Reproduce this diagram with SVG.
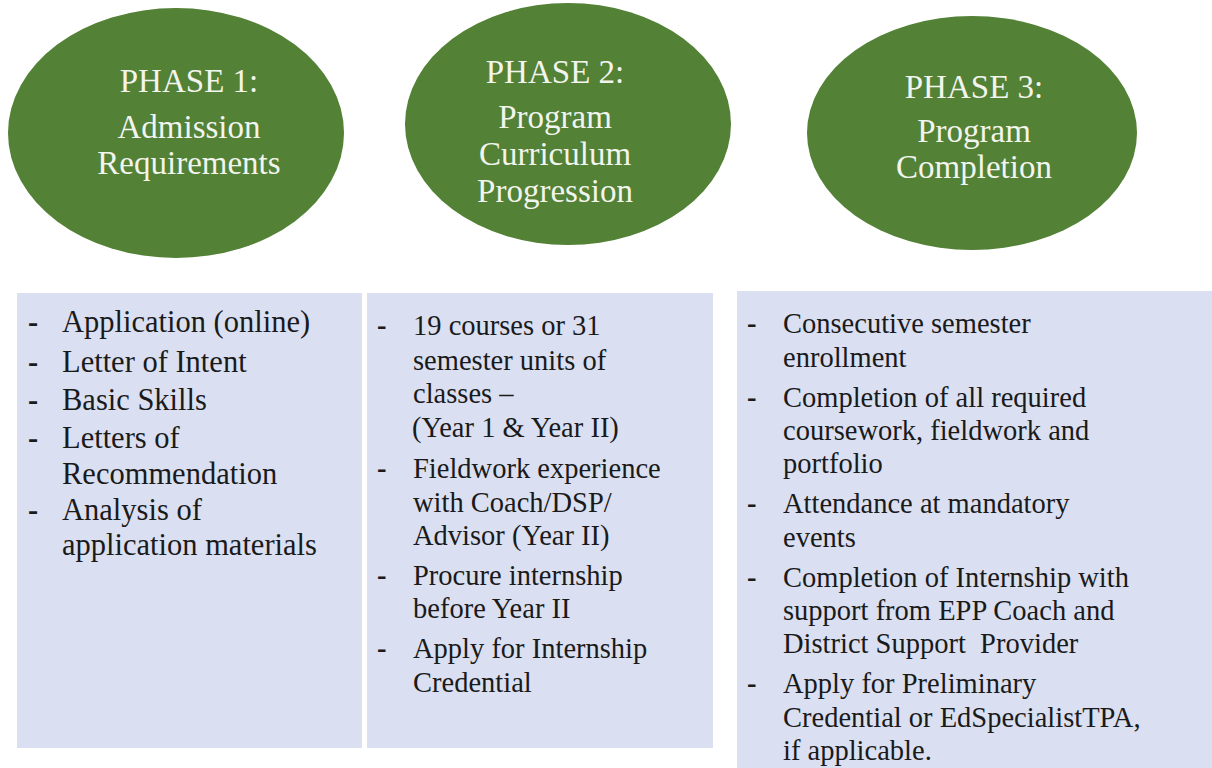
<svg xmlns="http://www.w3.org/2000/svg" width="1212" height="768" viewBox="0 0 1212 768">
<style>
.ph{fill:#538135}
.pt{font-family:"Liberation Serif","Times New Roman",serif;font-size:33px;fill:#f2f4ee;text-anchor:middle}
.box{fill:#dae0f2}
.t1{font-family:"Liberation Serif","Times New Roman",serif;font-size:30.5px;fill:#1a1a1a}
.t2{font-family:"Liberation Serif","Times New Roman",serif;font-size:28.5px;fill:#1a1a1a}
.d{font-weight:bold}
</style>
<rect width="1212" height="768" fill="#ffffff"/>
<g id="phase1">
<ellipse class="ph" cx="176" cy="133" rx="168" ry="125"/>
<text class="pt" x="189" y="92">PHASE 1:</text>
<text class="pt" x="189" y="138">Admission</text>
<text class="pt" x="189" y="174">Requirements</text>
</g>
<g id="phase2">
<ellipse class="ph" cx="568" cy="124" rx="163" ry="121"/>
<text class="pt" x="555" y="83">PHASE 2:</text>
<text class="pt" x="555" y="128">Program</text>
<text class="pt" x="555" y="165">Curriculum</text>
<text class="pt" x="555" y="202">Progression</text>
</g>
<g id="phase3">
<ellipse class="ph" cx="972" cy="133" rx="165" ry="117"/>
<text class="pt" x="974" y="98">PHASE 3:</text>
<text class="pt" x="974" y="142">Program</text>
<text class="pt" x="974" y="178">Completion</text>
</g>
<g id="box1">
<rect class="box" x="17" y="293" width="345" height="455"/>
<g class="t1">
<text class="d" x="28" y="332">-</text><text x="62" y="332">Application (online)</text>
<text class="d" x="28" y="372">-</text><text x="62" y="372">Letter of Intent</text>
<text class="d" x="28" y="410">-</text><text x="62" y="410">Basic Skills</text>
<text class="d" x="28" y="448">-</text><text x="62" y="448">Letters of</text>
<text x="62" y="484">Recommendation</text>
<text class="d" x="28" y="520">-</text><text x="62" y="520">Analysis of</text>
<text x="62" y="555">application materials</text>
</g>
</g>
<g id="box2">
<rect class="box" x="367" y="293" width="346" height="455"/>
<g class="t2">
<text class="d" x="377" y="335">-</text><text x="413" y="335">19 courses or 31</text>
<text x="413" y="370">semester units of</text>
<text x="413" y="403">classes –</text>
<text x="412" y="437">(Year 1 &amp; Year II)</text>
<text class="d" x="377" y="478">-</text><text x="413" y="478">Fieldwork experience</text>
<text x="413" y="512">with Coach/DSP/</text>
<text x="413" y="545">Advisor (Year II)</text>
<text class="d" x="377" y="585">-</text><text x="413" y="585">Procure internship</text>
<text x="413" y="618">before Year II</text>
<text class="d" x="377" y="658">-</text><text x="413" y="658">Apply for Internship</text>
<text x="413" y="692">Credential</text>
</g>
</g>
<g id="box3">
<rect class="box" x="737" y="291" width="475" height="477"/>
<g class="t2">
<text class="d" x="747" y="333">-</text><text x="783" y="333">Consecutive semester</text>
<text x="783" y="367">enrollment</text>
<text class="d" x="747" y="407">-</text><text x="783" y="407">Completion of all required</text>
<text x="783" y="440">coursework, fieldwork and</text>
<text x="783" y="473">portfolio</text>
<text class="d" x="747" y="513">-</text><text x="783" y="513">Attendance at mandatory</text>
<text x="783" y="547">events</text>
<text class="d" x="747" y="587">-</text><text x="783" y="587">Completion of Internship with</text>
<text x="783" y="620">support from EPP Coach and</text>
<text x="783" y="653" xml:space="preserve">District Support  Provider</text>
<text class="d" x="747" y="693">-</text><text x="783" y="693">Apply for Preliminary</text>
<text x="783" y="727">Credential or EdSpecialistTPA,</text>
<text x="783" y="760">if applicable.</text>
</g>
</g>
<g id="connectors"></g>
</svg>
